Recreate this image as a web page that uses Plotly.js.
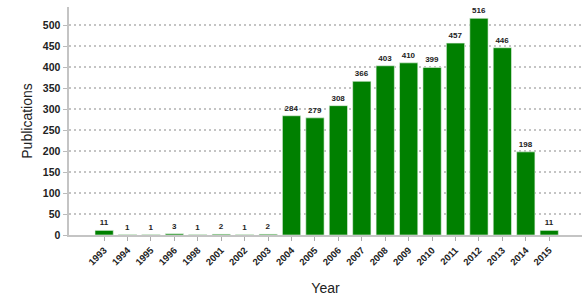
<!DOCTYPE html>
<html>
<head>
<meta charset="utf-8">
<script src="https://cdn.plot.ly/plotly-3.0.1.min.js"></script>
<style>html,body{margin:0;padding:0;background:#fff;}#chart{width:585px;height:296px;}</style>
</head>
<body>
<div id="chart"></div>
<script>
const years = ["1993","1994","1995","1996","1998","2001","2002","2003","2004","2005","2006","2007","2008","2009","2010","2011","2012","2013","2014","2015"];
const publications = [11,1,1,3,1,2,1,2,284,279,308,366,403,410,399,457,516,446,198,11];
const yTicks = [0,50,100,150,200,250,300,350,400,450,500];

const fam = "Arial, 'Liberation Sans', sans-serif";

Plotly.newPlot("chart", [{
  type: "bar",
  x: years,
  y: publications,
  text: publications.map(String),
  textposition: "outside",
  cliponaxis: false,
  textfont: {family: fam, size: 8, color: "#222", weight: "bold"},
  marker: {color: "#008000", line: {color: "#e8f4e8", width: 0.6}},
  hoverinfo: "x+y"
}], {
  width: 585, height: 296,
  margin: {l: 69, r: 3, t: 7, b: 61},
  paper_bgcolor: "#fff", plot_bgcolor: "#fff",
  showlegend: false,
  bargap: 0.22,
  xaxis: {
    type: "category",
    range: [-1.5, 20.4],
    tickangle: -45,
    tickfont: {family: fam, size: 9.5, color: "#222", weight: "bold"},
    showline: true, linecolor: "#c4c4c4", linewidth: 2,
    ticks: "outside", ticklen: 4, tickcolor: "#aaa",
    showgrid: false,
    automargin: false,
    title: {text: "Year", font: {family: fam, size: 14, color: "#222"}, standoff: 17}
  },
  yaxis: {
    range: [0, 543],
    tickvals: yTicks,
    tickfont: {family: fam, size: 10.5, color: "#222", weight: "bold"},
    showline: true, linecolor: "#c4c4c4", linewidth: 2.5,
    ticks: "outside", ticklen: 4, tickcolor: "#bbb",
    showgrid: true, gridcolor: "#c4c4c4", griddash: "2px,3px", gridwidth: 1.2,
    zeroline: false,
    title: {text: "Publications", font: {family: fam, size: 14, color: "#222"}, standoff: 7}
  }
}, {displayModeBar: false, staticPlot: true});
</script>
</body>
</html>
